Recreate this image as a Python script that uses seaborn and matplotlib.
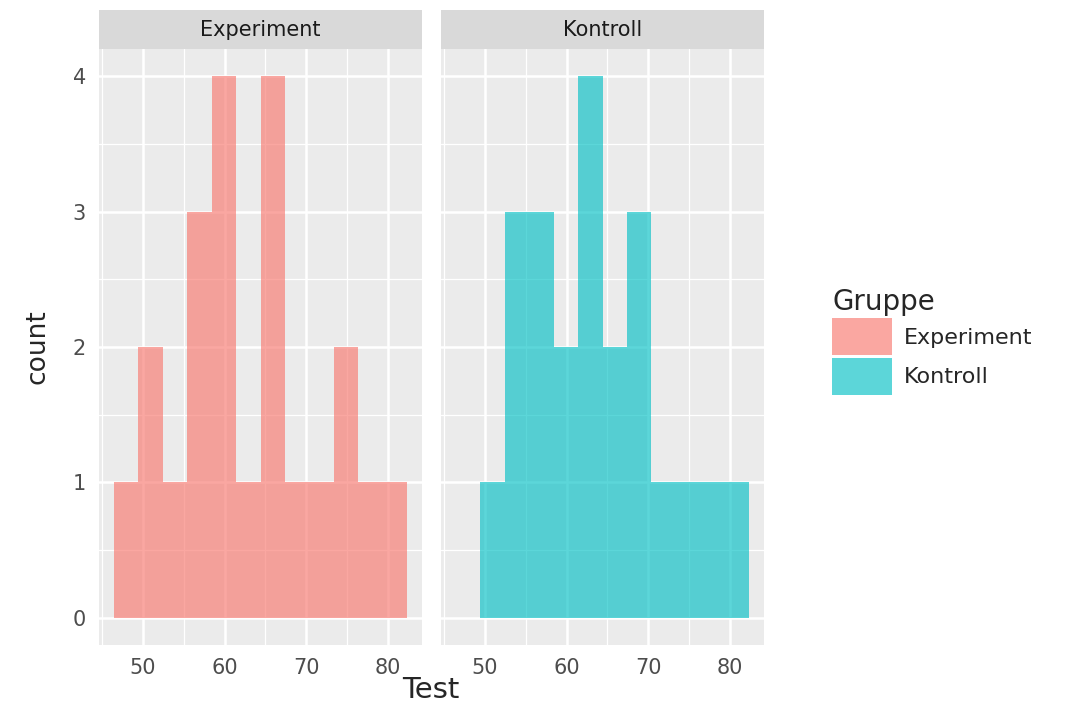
import numpy as np
import pandas as pd
import matplotlib
matplotlib.use("Agg")
import matplotlib.pyplot as plt
from matplotlib.patches import Patch, Rectangle
from matplotlib.ticker import FixedLocator
import seaborn as sns

experiment_scores = [48, 50, 51, 54, 56, 57, 58, 59, 60, 60, 61, 63,
                     65, 66, 66, 67, 69, 72, 74, 75, 78, 81]
kontroll_scores = [50, 53, 54, 55, 56, 57, 58, 59, 61, 62, 63, 63,
                   64, 65, 67, 68, 69, 70, 72, 75, 78, 81]
groups = ["Experiment", "Kontroll"]
group_colors = {"Experiment": "#F8766D", "Kontroll": "#00BFC4"}

x_ticks = [50, 60, 70, 80]
y_ticks = [0, 1, 2, 3, 4]

df = pd.DataFrame({
    "Test": experiment_scores + kontroll_scores,
    "Gruppe": ["Experiment"] * len(experiment_scores) + ["Kontroll"] * len(kontroll_scores),
})

# bin edges
bin_start, bin_width, n_bins = 46.4, 3.0, 12
bins = bin_start + bin_width * np.arange(n_bins + 1)

sns.set_style("white")
plt.rcParams["font.family"] = ["DejaVu Sans"]

W, H = 1082, 704
fig = plt.figure(figsize=(W / 100, H / 100), dpi=100)

panel_bottom = 1 - 645 / H
panel_height = (645 - 49) / H
panel_lefts = [99 / W, 441 / W]
panel_width = 323 / W
strip_h = 39 / 596  # in axes fraction
bar_alpha = 0.64

axes = []
for i, g in enumerate(groups):
    ax = fig.add_axes([panel_lefts[i], panel_bottom, panel_width, panel_height])
    ax.set_facecolor("#EBEBEB")
    ax.set_axisbelow(True)
    sns.histplot(data=df[df["Gruppe"] == g], x="Test", bins=bins,
                 color=group_colors[g], alpha=bar_alpha, linewidth=0,
                 edgecolor="none", ax=ax)
    ax.set_xlim(44.6, 84.2)
    ax.set_ylim(-0.2, 4.2)
    ax.set_xticks(x_ticks)
    ax.set_yticks(y_ticks)
    ax.xaxis.set_minor_locator(FixedLocator([45, 55, 65, 75]))
    ax.yaxis.set_minor_locator(FixedLocator([0.5, 1.5, 2.5, 3.5]))
    ax.grid(which="major", color="white", linewidth=1.8)
    ax.grid(which="minor", color="white", linewidth=0.9)
    ax.tick_params(which="minor", length=0)
    ax.tick_params(which="major", length=4.5, width=1.2, color="#333333",
                   labelcolor="#4D4D4D", labelsize=15, pad=5)
    for s in ax.spines.values():
        s.set_visible(False)
    ax.set_xlabel("")
    ax.set_ylabel("")
    # facet strip
    ax.add_patch(Rectangle((0, 1), 1, strip_h, transform=ax.transAxes,
                           facecolor="#D9D9D9", edgecolor="none", clip_on=False))
    ax.text(0.5, 1 + strip_h / 2, g, transform=ax.transAxes, ha="center",
            va="center", fontsize=15, color="#1A1A1A")
    axes.append(ax)

axes[1].tick_params(axis="y", which="both", left=False, labelleft=False)
axes[0].set_ylabel("count", fontsize=19, labelpad=16)

fig.text(431 / W, 1 - 690 / H, "Test", ha="center", va="center", fontsize=21)

handles = [Patch(facecolor=group_colors[g], alpha=bar_alpha, edgecolor="none") for g in groups]
leg = fig.legend(handles, groups, title="Gruppe", loc="upper left",
                 bbox_to_anchor=(832 / W, 1 - 288 / H), frameon=False,
                 fontsize=16, title_fontsize=20, handlelength=2.7,
                 handleheight=2.2, labelspacing=0.1, handletextpad=0.55,
                 borderpad=0, borderaxespad=0)
leg._legend_box.align = "left"

fig.savefig("out.png", dpi=100)
